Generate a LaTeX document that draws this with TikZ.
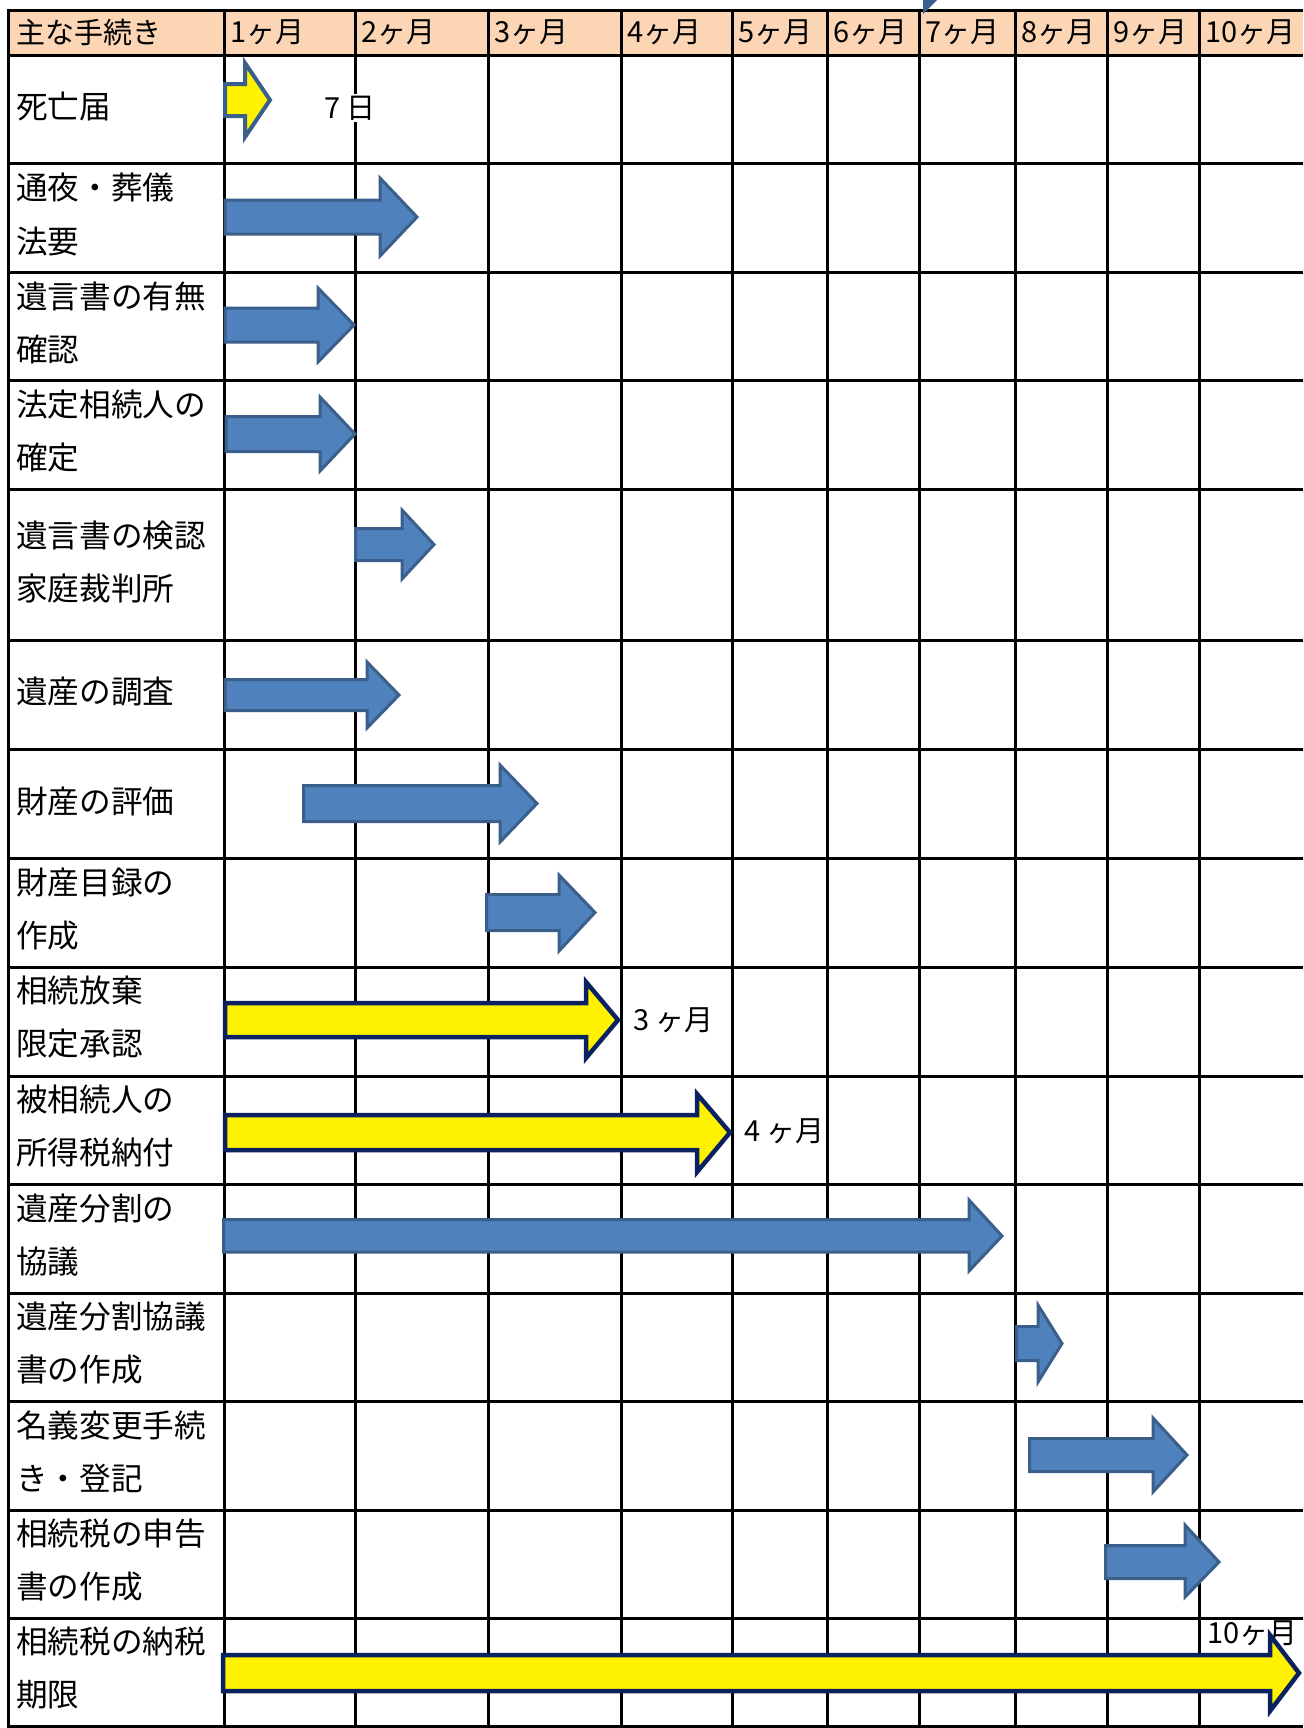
\documentclass[tikz,border=0pt]{standalone}
\usepackage{fontspec}
\newfontfamily\jp{Noto Sans CJK JP}
\usepackage{tikz}

\definecolor{headfill}{HTML}{FCD5B4}
\definecolor{arrowblue}{HTML}{4F81BD}
\definecolor{arrowedge}{HTML}{3A5F8B}
\definecolor{arrownavy}{HTML}{0B2160}

\tikzset{
  gridline/.style={line width=0.06cm, black},
  headtext/.style={anchor=west, inner sep=0pt, font=\jp\fontsize{16.5pt}{20pt}\selectfont},
  tasktext/.style={anchor=west, align=left, inner sep=0pt, font=\jp\fontsize{18pt}{30.2pt}\selectfont},
  daytext/.style={anchor=west, inner sep=1pt, font=\jp\fontsize{16.5pt}{20pt}\selectfont},
  bluearrow/.style={fill=arrowblue, draw=arrowedge, line width=0.06cm, line join=miter},
  yellowarrow/.style={fill=yellow, draw=arrownavy, line width=0.09cm, line join=miter},
}

\begin{document}
\begin{tikzpicture}[x=0.02cm, y=-0.02cm]
					\useasboundingbox (0,0) rectangle (1303,1728);
					\fill[headfill] (8.5,10) rectangle (1303,55);
					% rows
					\draw[gridline] (8.5,10) -- (1303,10);
					\draw[gridline] (8.5,55) -- (1303,55);
					\draw[gridline] (8.5,163) -- (1303,163);
					\draw[gridline] (8.5,272) -- (1303,272);
					\draw[gridline] (8.5,380) -- (1303,380);
					\draw[gridline] (8.5,489.5) -- (1303,489.5);
					\draw[gridline] (8.5,640.5) -- (1303,640.5);
					\draw[gridline] (8.5,749.5) -- (1303,749.5);
					\draw[gridline] (8.5,858.5) -- (1303,858.5);
					\draw[gridline] (8.5,967) -- (1303,967);
					\draw[gridline] (8.5,1076) -- (1303,1076);
					\draw[gridline] (8.5,1184) -- (1303,1184);
					\draw[gridline] (8.5,1293) -- (1303,1293);
					\draw[gridline] (8.5,1401) -- (1303,1401);
					\draw[gridline] (8.5,1510) -- (1303,1510);
					\draw[gridline] (8.5,1618) -- (1303,1618);
					\draw[gridline] (8.5,1726) -- (1303,1726);
					% columns
					\draw[gridline] (8.5,8.5) -- (8.5,1727.5);
					\draw[gridline] (224,8.5) -- (224,1727.5);
					\draw[gridline] (355,8.5) -- (355,1727.5);
					\draw[gridline] (488,8.5) -- (488,1727.5);
					\draw[gridline] (621,8.5) -- (621,1727.5);
					\draw[gridline] (732,8.5) -- (732,1727.5);
					\draw[gridline] (827,8.5) -- (827,1727.5);
					\draw[gridline] (919,8.5) -- (919,1727.5);
					\draw[gridline] (1015,8.5) -- (1015,1727.5);
					\draw[gridline] (1107,8.5) -- (1107,1727.5);
					\draw[gridline] (1199,8.5) -- (1199,1727.5);
					% header
					\path (16,32) node[headtext] (h0) {主な手続き};
					\path (230,32) node[headtext] (h1) {1ヶ月};
					\path (361,32) node[headtext] (h2) {2ヶ月};
					\path (494,32) node[headtext] (h3) {3ヶ月};
					\path (627,32) node[headtext] (h4) {4ヶ月};
					\path (738,32) node[headtext] (h5) {5ヶ月};
					\path (833,32) node[headtext] (h6) {6ヶ月};
					\path (925,32) node[headtext] (h7) {7ヶ月};
					\path (1021,32) node[headtext] (h8) {8ヶ月};
					\path (1113,32) node[headtext] (h9) {9ヶ月};
					\path (1205,32) node[headtext] (h10) {10ヶ月};
					% tasks
					\path (16,106) node[tasktext] (t1) {死亡届};
					\path (16,214.5) node[tasktext] (t2) {通夜・葬儀\\法要};
					\path (16,323) node[tasktext] (t3) {遺言書の有無\\確認};
					\path (16,431.5) node[tasktext] (t4) {法定相続人の\\確定};
					\path (16,562) node[tasktext] (t5) {遺言書の検認\\家庭裁判所};
					\path (16,692) node[tasktext] (t6) {遺産の調査};
					\path (16,801) node[tasktext] (t7) {財産の評価};
					\path (16,909) node[tasktext] (t8) {財産目録の\\作成};
					\path (16,1017) node[tasktext] (t9) {相続放棄\\限定承認};
					\path (16,1126) node[tasktext] (t10) {被相続人の\\所得税納付};
					\path (16,1235) node[tasktext] (t11) {遺産分割の\\協議};
					\path (16,1343) node[tasktext] (t12) {遺産分割協議\\書の作成};
					\path (16,1452) node[tasktext] (t13) {名義変更手続\\き・登記};
					\path (16,1560) node[tasktext] (t14) {相続税の申告\\書の作成};
					\path (16,1668) node[tasktext] (t15) {相続税の納税\\期限};
					% limits
					\path (322,108) node[daytext, fill=white] (d1) {7 日};
					\path (631,1020) node[daytext] (d9) {3 ヶ月};
					\path (742,1131) node[daytext] (d10) {4 ヶ月};
					\path (1205,1633) node[daytext] (d15) {10ヶ月};
					% arrows
					\fill[arrowedge] (923,0) -- (937,0) -- (923,14) -- cycle;
					\draw[fill=yellow, draw=arrowedge, line width=0.08cm] (225,84) -- (245,84) -- (245,63) -- (270,100) -- (245,137) -- (245,116) -- (225,116) -- cycle;
					\draw[bluearrow] (225,200) -- (380,200) -- (380,178) -- (417,217) -- (380,256) -- (380,234) -- (225,234) -- cycle;
					\draw[bluearrow] (225,308) -- (318,308) -- (318,288) -- (354,325) -- (318,362) -- (318,342) -- (225,342) -- cycle;
					\draw[bluearrow] (226,416.5) -- (320,416.5) -- (320,397) -- (355,434) -- (320,471) -- (320,451.5) -- (226,451.5) -- cycle;
					\draw[bluearrow] (355.5,528.5) -- (402,528.5) -- (402,510) -- (434,544.5) -- (402,579) -- (402,560.5) -- (355.5,560.5) -- cycle;
					\draw[bluearrow] (225,679.5) -- (367,679.5) -- (367,662) -- (399,695) -- (367,728) -- (367,710.5) -- (225,710.5) -- cycle;
					\draw[bluearrow] (303.5,785.5) -- (500,785.5) -- (500,765) -- (537,803.5) -- (500,842) -- (500,821.5) -- (303.5,821.5) -- cycle;
					\draw[bluearrow] (486.5,894.5) -- (559,894.5) -- (559,875) -- (595,912.5) -- (559,951) -- (559,930.5) -- (486.5,930.5) -- cycle;
					\draw[yellowarrow] (225,1003) -- (586,1003) -- (586,982) -- (618,1020) -- (586,1058) -- (586,1037) -- (225,1037) -- cycle;
					\draw[yellowarrow] (225,1115) -- (697,1115) -- (697,1094) -- (730,1132.5) -- (697,1172) -- (697,1150) -- (225,1150) -- cycle;
					\draw[bluearrow] (223.5,1219.5) -- (969,1219.5) -- (969,1200) -- (1002,1236) -- (969,1271) -- (969,1252) -- (223.5,1252) -- cycle;
					\draw[bluearrow] (1016.5,1326.5) -- (1038,1326.5) -- (1038,1305) -- (1062,1343.5) -- (1038,1382) -- (1038,1360.5) -- (1016.5,1360.5) -- cycle;
					\draw[bluearrow] (1029.5,1438.5) -- (1153,1438.5) -- (1153,1418) -- (1187,1455) -- (1153,1492) -- (1153,1471.5) -- (1029.5,1471.5) -- cycle;
					\draw[bluearrow] (1105.5,1545.5) -- (1185,1545.5) -- (1185,1525) -- (1219,1562) -- (1185,1597) -- (1185,1578.5) -- (1105.5,1578.5) -- cycle;
					\draw[yellowarrow] (223,1655) -- (1270,1655) -- (1270,1635) -- (1299,1673) -- (1270,1711) -- (1270,1691) -- (223,1691) -- cycle;
\end{tikzpicture}
\end{document}
